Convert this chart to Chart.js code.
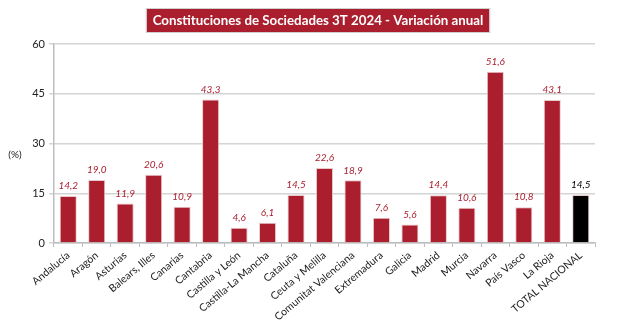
<!DOCTYPE html>
<html lang="es">
<head>
  <meta charset="UTF-8">
  <title>Constituciones de Sociedades 3T 2024</title>
  <script src="https://cdn.jsdelivr.net/npm/chart.js"></script>
  <style>
    html, body { margin: 0; padding: 0; background: #fff; }
  </style>
</head>
<body>
  <canvas id="grafico" width="621" height="330"></canvas>

  <script>
    const regiones = ["Andalucía", "Aragón", "Asturias", "Balears, Illes", "Canarias", "Cantabria",
      "Castilla y León", "Castilla-La Mancha", "Cataluña", "Ceuta y Melilla", "Comunitat Valenciana",
      "Extremadura", "Galicia", "Madrid", "Murcia", "Navarra", "País Vasco", "La Rioja", "TOTAL NACIONAL"];
    const variacion = [14.2, 19.0, 11.9, 20.6, 10.9, 43.3, 4.6, 6.1, 14.5, 22.6, 18.9,
      7.6, 5.6, 14.4, 10.6, 51.6, 10.8, 43.1, 14.5];
    const ticksY = [0, 15, 30, 45, 60];

    const ROJO = "#AB1E2E";
    const fuente = "Lato, 'Open Sans', sans-serif";

    const colores = regiones.map(r => r === "TOTAL NACIONAL" ? "#000000" : ROJO);

    // titulo en caja, etiqueta (%) y valores encima de las barras
    const extras = {
      id: "extras",
      afterDraw(chart) {
        const ctx = chart.ctx;
        ctx.save();
        // titulo
        const titulo = "Constituciones de Sociedades 3T 2024 - Variación anual";
        ctx.font = "bold 13.3px " + fuente;
        const w = ctx.measureText(titulo).width;
        const cx = 318;
        ctx.fillStyle = ROJO;
        ctx.fillRect(cx - w / 2 - 6, 9, w + 12, 23);
        ctx.strokeStyle = "#d0d0d0";
        ctx.strokeRect(cx - w / 2 - 6.5, 8.5, w + 13, 24);
        ctx.fillStyle = "#fff";
        ctx.textAlign = "center";
        ctx.textBaseline = "middle";
        ctx.fillText(titulo, cx, 21);

        // (%)
        ctx.font = "10px " + fuente;
        ctx.fillStyle = "#222";
        ctx.fillText("(%)", 15, 155);

        // valores
        const meta = chart.getDatasetMeta(0);
        ctx.font = "italic 10px " + fuente;
        ctx.textBaseline = "bottom";
        meta.data.forEach((bar, i) => {
          ctx.fillStyle = regiones[i] === "TOTAL NACIONAL" ? "#000" : ROJO;
          ctx.fillText(variacion[i].toFixed(1).replace(".", ","), bar.x, bar.y - 5);
        });
        ctx.restore();
      }
    };

    new Chart(document.getElementById("grafico"), {
      type: "bar",
      data: {
        labels: regiones,
        datasets: [{
          data: variacion,
          backgroundColor: colores,
          borderColor: "#e9c9cc",
          borderWidth: 1,
          barPercentage: 0.6,
          categoryPercentage: 1
        }]
      },
      options: {
        responsive: false,
        animation: false,
        layout: { padding: { top: 44, left: 0, right: 26, bottom: 0 } },
        plugins: { legend: { display: false }, tooltip: { enabled: false } },
        scales: {
          y: {
            min: 0, max: 60,
            afterBuildTicks: s => { s.ticks = ticksY.map(v => ({ value: v })); },
            afterFit: s => { s.width = 54; },
            grid: { color: "#d4d4d4", lineWidth: 1.5, tickLength: 5, drawTicks: true },
            border: { color: "#bdbdbd", width: 1.5 },
            ticks: { color: "#222", font: { family: fuente, size: 11 }, padding: 4 }
          },
          x: {
            afterFit: s => { s.height = 87; },
            grid: { drawOnChartArea: false, color: "#bdbdbd", tickLength: 4 },
            border: { color: "#bdbdbd", width: 1.5 },
            ticks: {
              color: "#222", font: { family: fuente, size: 10.5 },
              minRotation: 40, maxRotation: 40, autoSkip: false, padding: 2
            }
          }
        }
      },
      plugins: [extras]
    });
  </script>
</body>
</html>
